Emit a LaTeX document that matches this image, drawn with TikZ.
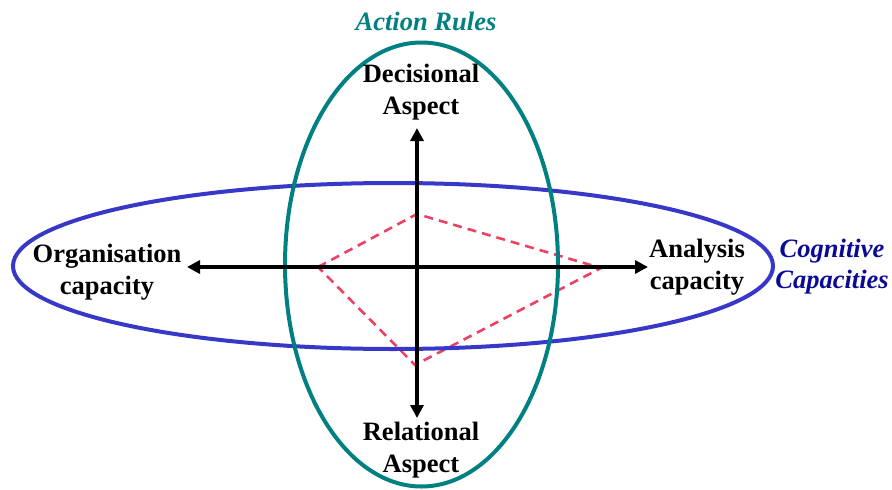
\documentclass[tikz,border=0pt]{standalone}
\usepackage{fontspec}
\setmainfont{Liberation Serif}
\usetikzlibrary{arrows.meta,shapes.geometric}
\definecolor{tealc}{RGB}{0,128,128}
\definecolor{bluec}{RGB}{56,56,200}
\definecolor{navyc}{RGB}{10,10,150}
\definecolor{dashc}{RGB}{234,66,98}
\begin{document}
\begin{tikzpicture}[x=1pt,y=-1pt,
  ring/.style={ellipse,draw,line width=4pt,inner sep=0pt},
  axis/.style={line width=4.2pt,-{Triangle[length=13pt,width=13pt]}},
  lbl/.style={font=\fontsize{26.5}{32}\selectfont\bfseries,align=center,inner sep=0pt},
  ttl/.style={font=\fontsize{26.5}{31}\selectfont\bfseries\itshape,align=center,inner sep=0pt},
  poly/.style={dashc,line width=2.6pt,dash pattern=on 9pt off 6pt}]
\useasboundingbox (0,0) rectangle (892,490);
% dashed quadrilateral
\coordinate (pl) at (318,267);
\coordinate (pt) at (417,214);
\coordinate (pr) at (601,268);
\coordinate (pb) at (415,365);
\draw[poly] (pl) -- (pt) -- (pr) -- (pb) -- cycle;
% ellipses
\node[ring,draw=bluec,minimum width=760pt,minimum height=166pt] (cog) at (393,266) {};
\node[ring,draw=tealc,minimum width=273pt,minimum height=444pt] (act) at (421.5,264.5) {};
% axes
\coordinate (o) at (417,267);
\coordinate (left) at (187,267);
\coordinate (right) at (648,267);
\coordinate (top) at (417,128);
\coordinate (bot) at (417,418);
\draw[axis] (o) -- (left);
\draw[axis] (o) -- (right);
\draw[axis] (o) -- (top);
\draw[axis] (o) -- (bot);
% labels
\node[ttl,text=tealc] (tact) at (426,21) {Action Rules};
\node[lbl] (dec) at (421,92) {Decisional\\Aspect};
\node[lbl] (rel) at (421,450) {Relational\\Aspect};
\node[lbl] (org) at (107,272) {Organisation\\capacity};
\node[lbl] (ana) at (697,267) {Analysis\\capacity};
\node[ttl,text=navyc] (tcog) at (832,267) {Cognitive\\Capacities};
\end{tikzpicture}
\end{document}
